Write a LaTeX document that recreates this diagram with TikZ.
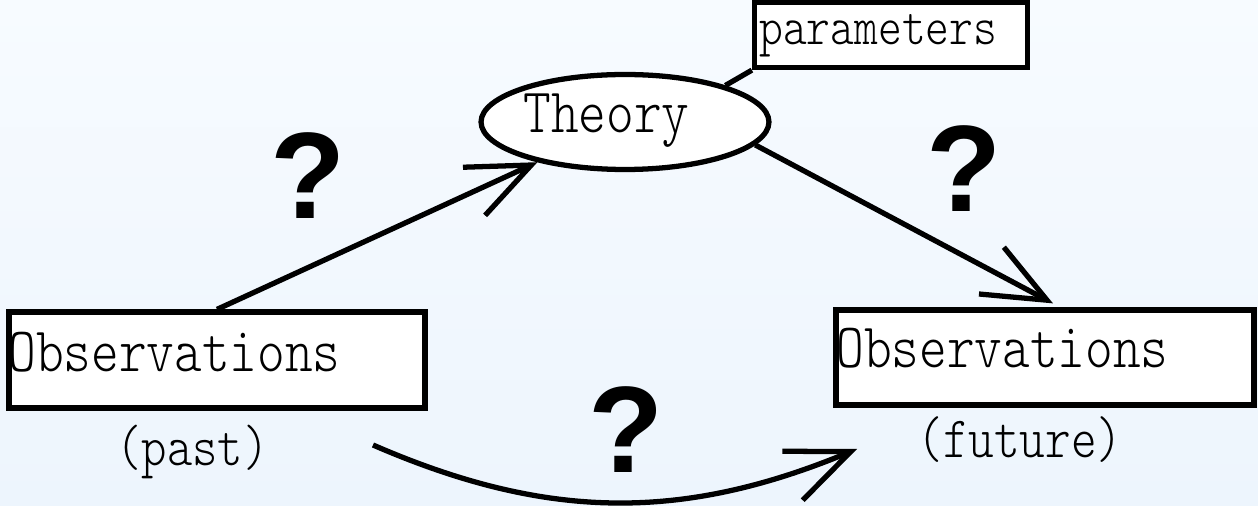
\documentclass[tikz,border=0pt]{standalone}
\usepackage{fontspec}
\usepackage{graphicx}
\newfontfamily\qfont{Liberation Sans}
\usetikzlibrary{arrows.meta,shapes.geometric}
\definecolor{bgtop}{HTML}{F7FBFF}
\definecolor{bgbot}{HTML}{EDF5FD}
\tikzset{
  box/.style={draw=black, fill=white, line width=3pt, inner sep=0pt, rectangle},
  lbl/.style={inner sep=0pt, anchor=base west},
  qm/.style={inner sep=0pt, font=\qfont\bfseries\fontsize{70}{70}\selectfont},
  conn/.style={line width=3pt, -{Straight Barb[length=1.26cm,width=1.06cm,line width=3pt]}},
  link/.style={line width=3pt},
}
\newcommand\mytx[2]{{\ttfamily\fontseries{l}\fontsize{#1}{#1}\selectfont\scalebox{1}[1.2]{#2}}}
\begin{document}
\begin{tikzpicture}[x=0.02cm,y=-0.02cm]
\useasboundingbox (0,0) rectangle (1258,506);
\shade[top color=bgtop, bottom color=bgbot] (0,0) rectangle (1258,506);

% boxes
\node[box, minimum width=8.32cm, minimum height=1.92cm] (obsL) at (217,360) {};
\node[box, minimum width=8.36cm, minimum height=1.90cm] (obsR) at (1045,357.5) {};
\node[box, minimum width=5.46cm, minimum height=1.30cm] (params) at (891,35) {};
\node[box, ellipse, minimum width=5.76cm, minimum height=1.90cm] (theory) at (625,122) {};

% texts
\node[lbl] (tobsL) at (8,372) {\mytx{30pt}{Observations}};
\node[lbl] (tobsR) at (836,368) {\mytx{30pt}{Observations}};
\node[lbl] (tparams) at (759,45) {\mytx{25.8pt}{parameters}};
\node[lbl] (ttheory) at (523,133) {\mytx{30pt}{Theory}};
\node[lbl] (tpast) at (116,465) {\mytx{27.5pt}{(past)}};
\node[lbl] (tfuture) at (917,458) {\mytx{27.8pt}{(future)}};

% question marks
\node[qm] (q1) at (308,176) {?};
\node[qm] (q2) at (626,430) {?};
\node[qm] (q3) at (964,169) {?};

% connectors
\draw[link] (theory.20) -- (params.south west);
\draw[conn] (obsL.north) -- (theory);
\draw[conn] (theory.-10) -- ([shift={(8,-4)}]obsR.north);
\coordinate (cs) at (373,445);
\coordinate (ce) at (857,449);
\draw[conn] (cs) to[bend right=23] (ce);
\end{tikzpicture}
\end{document}
